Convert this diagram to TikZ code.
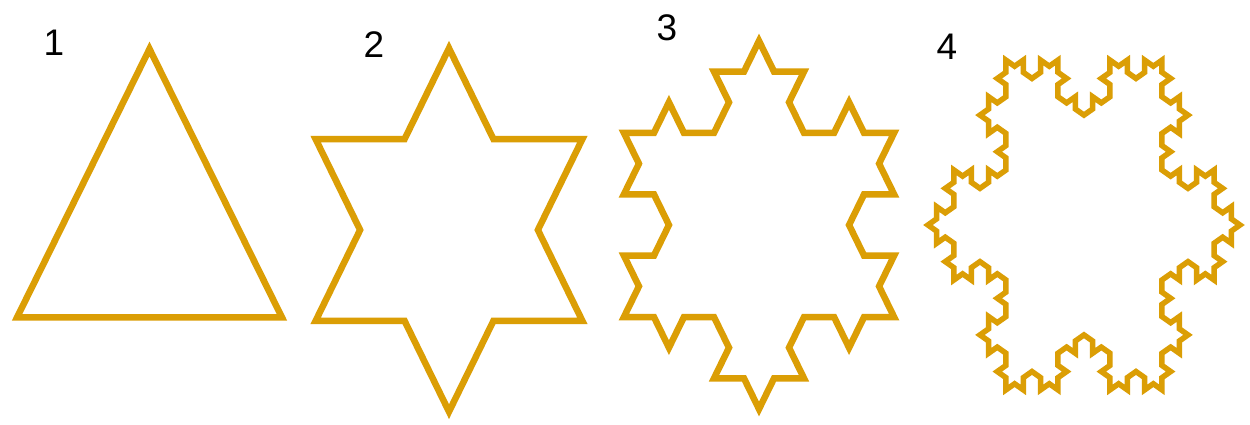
\documentclass[tikz,border=0pt]{standalone}
\usepackage{fontspec}
\newfontfamily\lblfont{Liberation Sans}
\definecolor{koch}{RGB}{219,158,5}
\newcommand\kochseg[2]{%
  \ifnum\numexpr#1\relax=0
    \xdef\kp{\kp -- ++(\the\numexpr#2\relax:\kl)}%
  \else
    \kochseg{#1-1}{#2}%
    \kochseg{#1-1}{#2+60}%
    \kochseg{#1-1}{#2-60}%
    \kochseg{#1-1}{#2}%
  \fi}
\newcommand\buildkoch[5]{\gdef\kp{}\def\kl{#2}\kochseg{#1}{#3}\kochseg{#1}{#4}\kochseg{#1}{#5}}
\begin{document}
\begin{tikzpicture}[x=1pt,y=1pt,
  kline/.style={draw=koch,line width=6.5pt,line join=miter},
  lbl/.style={font={\lblfont\fontsize{37}{40}\selectfont},inner sep=0pt,text=black}]
\useasboundingbox (0,0) rectangle (1250,425);
\fill[white] (0,0) rectangle (1250,425);
% 1
\begin{scope}[shift={(149.5,197)},yscale=1.17]
\buildkoch{0}{265}{-60}{180}{60}
\draw[kline] (90:153) \kp -- cycle;
\end{scope}
% 2
\begin{scope}[shift={(449,195)},yscale=1.18]
\buildkoch{1}{88.9}{-60}{180}{60}
\draw[kline] (90:154) \kp -- cycle;
\end{scope}
% 3
\begin{scope}[shift={(759,200)},yscale=1.18]
\buildkoch{2}{30.02}{-60}{180}{60}
\draw[kline] (90:156) \kp -- cycle;
\end{scope}
% 4
\begin{scope}[shift={(1084,200)},yscale=1.22]
\buildkoch{3}{10.01}{-150}{90}{-30}
\draw[kline,line width=5.5pt] (0:156) \kp -- cycle;
\end{scope}
\node[lbl] (n1) at (54,382) {1};
\node[lbl] (n2) at (374,380) {2};
\node[lbl] (n3) at (667,397) {3};
\node[lbl] (n4) at (947,378) {4};
\end{tikzpicture}
\end{document}
